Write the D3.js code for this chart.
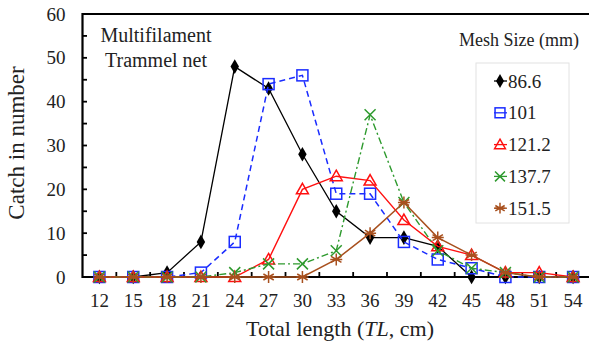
<!DOCTYPE html>
<html><head><meta charset="utf-8">
<script src="https://cdn.jsdelivr.net/npm/d3@7"></script>
<style>html,body{margin:0;padding:0;background:#fff;} svg{display:block;} svg text{font-family:"Liberation Serif","DejaVu Serif",serif !important;fill:#222;}</style>
</head><body><svg id="c" width="589" height="344"></svg>
<script>
const categories = ["12","15","18","21","24","27","30","33","36","39","42","45","48","51","54"];
const seriesNames = ["86.6","101","121.2","137.7","151.5"];
const s86 = [0,0,1,8,48,43,28,15,9,9,7,0,0,0,0];
const s101 = [0,0,0,1,8,44,46,19,19,8,4,2,0,0,0];
const s121 = [0,0,0,0,0,4,20,23,22,13,7,5,1,1,0];
const s137 = [0,0,0,0,1,3,3,6,37,17,6,2,1,0,0];
const s151 = [0,0,0,0,0,0,0,4,10,17,9,5,1,0,0];
const yTicks = [0,10,20,30,40,50,60];

(function(){
const series = [
  {name:seriesNames[0], values:s86, color:"#000000", dash:null, width:1.3, marker:"diamond"},
  {name:seriesNames[1], values:s101, color:"#1a2cff", dash:"6,4", width:1.5, marker:"square"},
  {name:seriesNames[2], values:s121, color:"#ff1010", dash:null, width:1.4, marker:"triangle"},
  {name:seriesNames[3], values:s137, color:"#2e9a2e", dash:"7,3,2,3", width:1.4, marker:"x"},
  {name:seriesNames[4], values:s151, color:"#a8501e", dash:null, width:1.5, marker:"star"}
];

const svg = d3.select("#c");
const pL = 82.5, pR = 590, pT = 14, pB = 277;
const x = d3.scaleBand().domain(categories).range([pL, pR]).padding(0);
const y = d3.scaleLinear().domain([0,60]).range([pB, pT]);
const cx = d => x(d) + x.bandwidth()/2;

const yAxis = d3.axisLeft(y).tickValues(yTicks).tickSize(0).tickPadding(17);
const gy = svg.append("g").attr("transform",`translate(${pL},0)`).call(yAxis).attr("font-family",null);
gy.select(".domain").remove();
gy.selectAll("text").attr("font-size",19).attr("fill","#222");
const yt = d3.range(5,60,5);
svg.append("g").selectAll("line").data(yt).join("line")
  .attr("x1",pL).attr("x2",pL+4.5).attr("y1",d=>y(d)).attr("y2",d=>y(d))
  .attr("stroke","#000").attr("stroke-width",1.8);

const xAxis = d3.axisBottom(x).tickSize(0).tickPadding(17);
const gx = svg.append("g").attr("transform",`translate(0,${pB})`).call(xAxis).attr("font-family",null);
gx.select(".domain").remove();
gx.selectAll("text").attr("font-size",19).attr("fill","#222");
svg.append("g").selectAll("line").data(categories.slice(1)).join("line")
  .attr("x1",d=>x(d)).attr("x2",d=>x(d)).attr("y1",pB).attr("y2",pB-5)
  .attr("stroke","#000").attr("stroke-width",1.8);

svg.append("path").attr("d",`M${pR+2},${pT}H${pL}V${pB}H${pR+2}`)
  .attr("fill","none").attr("stroke","#000").attr("stroke-width",2.2);

svg.append("text").attr("x",340).attr("y",336).attr("text-anchor","middle").attr("font-size",22)
  .html('Total length (<tspan font-style="italic">TL</tspan>, cm)');
svg.append("text").attr("transform","translate(24,143) rotate(-90)").attr("text-anchor","middle")
  .attr("font-size",23).text("Catch in number");

svg.append("text").attr("x",156).attr("y",42).attr("text-anchor","middle").attr("font-size",20).text("Multifilament");
svg.append("text").attr("x",156).attr("y",67).attr("text-anchor","middle").attr("font-size",20).text("Trammel net");

function drawMarker(g, type, color, px, py, s) {
  s = s || 1;
  if (type==="diamond") {
    g.append("path").attr("d",d3.symbol(d3.symbolDiamond, 62*s)()).attr("transform",`translate(${px},${py})`).attr("fill",color);
  } else if (type==="square") {
    const h=5.5*s;
    g.append("rect").attr("x",px-h).attr("y",py-h).attr("width",2*h).attr("height",2*h).attr("fill","none").attr("stroke",color).attr("stroke-width",1.5);
  } else if (type==="triangle") {
    const h=6*s;
    g.append("path").attr("d",`M${px},${py-h}L${px+h},${py+h*0.75}L${px-h},${py+h*0.75}Z`).attr("fill","none").attr("stroke",color).attr("stroke-width",1.5);
  } else if (type==="x") {
    const h=5.5*s;
    g.append("path").attr("d",`M${px-h},${py-h}L${px+h},${py+h}M${px-h},${py+h}L${px+h},${py-h}`).attr("stroke",color).attr("stroke-width",1.5);
  } else if (type==="star") {
    const h=6*s;
    let d="";
    for (let i=0;i<3;i++){const a=Math.PI/2+i*Math.PI/3; d+=`M${px+h*Math.cos(a)},${py+h*Math.sin(a)}L${px-h*Math.cos(a)},${py-h*Math.sin(a)}`;}
    d+=`M${px-h},${py}L${px+h},${py}`;
    g.append("path").attr("d",d).attr("stroke",color).attr("stroke-width",1.5);
  }
}

const line = d3.line().x((d,i)=>cx(categories[i])).y(d=>y(d));
series.forEach(s=>{
  const g = svg.append("g");
  g.append("path").attr("d",line(s.values)).attr("fill","none").attr("stroke",s.color)
    .attr("stroke-width",s.width).attr("stroke-dasharray",s.dash);
  s.values.forEach((v,i)=>drawMarker(g,s.marker,s.color,cx(categories[i]),y(v)));
});

svg.append("text").attr("x",579).attr("y",46).attr("text-anchor","end").attr("font-size",18).text("Mesh Size (mm)");
svg.append("rect").attr("x",476).attr("y",63).attr("width",93).attr("height",160).attr("fill","#fff").attr("stroke","#e2e2e2").attr("stroke-width",1);
series.forEach((s,i)=>{
  const ly = 81 + i*31.8;
  const g = svg.append("g");
  g.append("line").attr("x1",494).attr("x2",507).attr("y1",ly).attr("y2",ly).attr("stroke",s.color).attr("stroke-width",1.3);
  drawMarker(g,s.marker,s.color,500,ly,0.9);
  g.append("text").attr("x",508).attr("y",ly+6.5).attr("font-size",19).text(s.name);
});
})();
</script></body></html>
